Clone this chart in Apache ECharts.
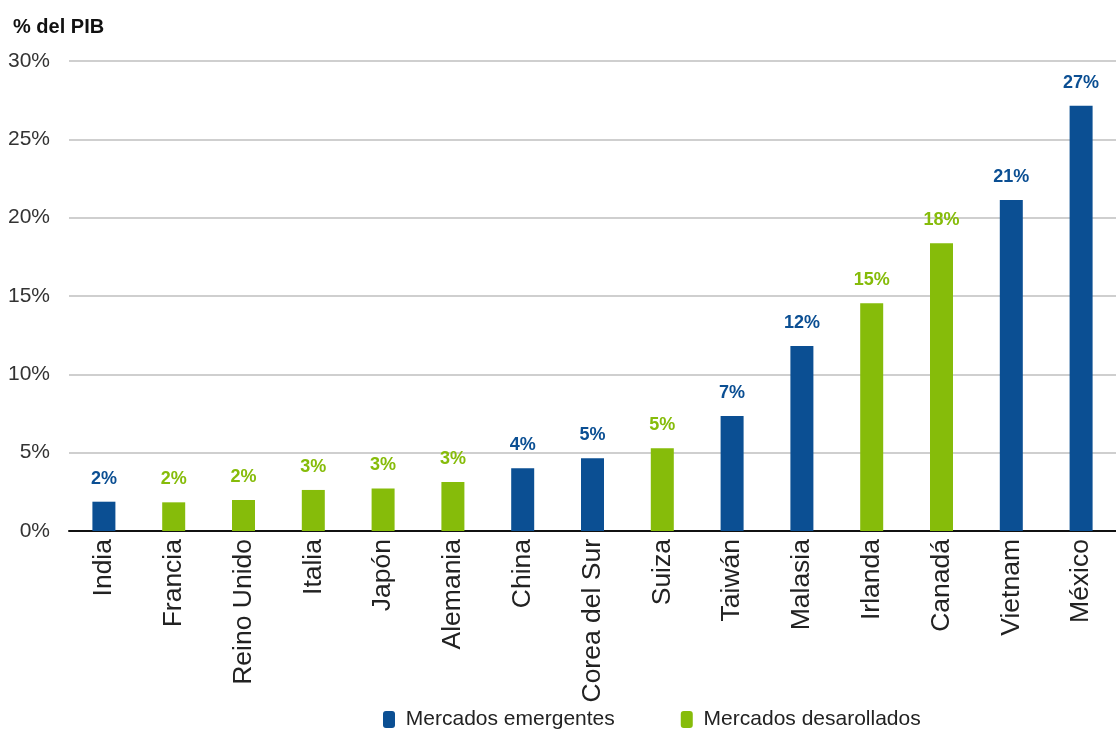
<!DOCTYPE html>
<html>
<head>
<meta charset="utf-8">
<script src="https://cdn.jsdelivr.net/npm/echarts@6/dist/echarts.min.js"></script>
<style>
    html, body { margin: 0; padding: 0; background: #fff; }
    #chart { width: 1116px; height: 736px; }
</style>
</head>
<body>
<div id="chart"></div>
<script>
// paises (eje x)
var paises = ['India', 'Francia', 'Reino Unido', 'Italia', 'Japón', 'Alemania', 'China', 'Corea del Sur',
              'Suiza', 'Taiwán', 'Malasia', 'Irlanda', 'Canadá', 'Vietnam', 'México'];
// % del PIB
var valores = [1.87, 1.83, 1.98, 2.62, 2.72, 3.13, 4.0, 4.64, 5.28, 7.34, 11.81, 14.53, 18.36, 21.13, 27.15];
// E = emergente, D = desarrollado
var tipos = ['E', 'D', 'D', 'D', 'D', 'D', 'E', 'E', 'D', 'E', 'E', 'D', 'D', 'E', 'E'];
var ticksY = [0, 5, 10, 15, 20, 25, 30];

var AZUL = '#0b4f93';
var VERDE = '#86bc0a';
var FUENTE = '"Liberation Sans", Arial, sans-serif';

var myChart = echarts.init(document.getElementById('chart'));

//serie por tipo
function serie(nombre, tipo, color){
    return {
        name : nombre,
        type : 'bar',
        stack : 'total',
        barWidth : 23,
        itemStyle : { color : color },
        label : {
            show : true,
            position : 'top',
            distance : 14,
            color : color,
            fontFamily : FUENTE,
            fontWeight : 'bold',
            fontSize : 18,
            formatter : function(p){ return Math.round(p.value) + '%'; }
        },
        data : valores.map(function(v, i){ return tipos[i] === tipo ? v : '-'; })
    };
}

var option = {
    animation : false,
    backgroundColor : '#fff',
    title : {
        text : '% del PIB',
        left : 8,
        top : 12,
        textStyle : { fontFamily : FUENTE, fontWeight : 'bold', fontSize : 20, color : '#111' }
    },
    legend : {
        bottom : 1,
        left : 378,
        itemGap : 66,
        itemWidth : 12,
        itemHeight : 17,
        icon : 'roundRect',
        textStyle : { fontFamily : FUENTE, fontSize : 21, color : '#222' },
        formatter : function(n){ return ' ' + n; },
        data : ['Mercados emergentes', 'Mercados desarollados']
    },
    grid : {
        left : 69,
        right : -9,
        top : 61,
        bottom : 205
    },
    xAxis : {
        type : 'category',
        data : paises,
        axisLine : { lineStyle : { color : '#111', width : 2 } },
        axisTick : { show : false },
        axisLabel : {
            rotate : 90,
            interval : 0,
            margin : 8,
            fontFamily : FUENTE,
            fontSize : 26.5,
            color : '#222'
        }
    },
    yAxis : {
        type : 'value',
        min : ticksY[0],
        max : ticksY[ticksY.length - 1],
        interval : 5,
        axisLine : { show : false },
        axisTick : { show : false },
        splitLine : { lineStyle : { color : '#cfcfcf', width : 2 } },
        axisLabel : {
            margin : 19,
            fontFamily : FUENTE,
            fontSize : 21,
            color : '#333',
            formatter : '{value}%'
        }
    },
    series : [
        serie('Mercados emergentes', 'E', AZUL),
        serie('Mercados desarollados', 'D', VERDE)
    ]
};
myChart.setOption(option);
</script>
</body>
</html>
